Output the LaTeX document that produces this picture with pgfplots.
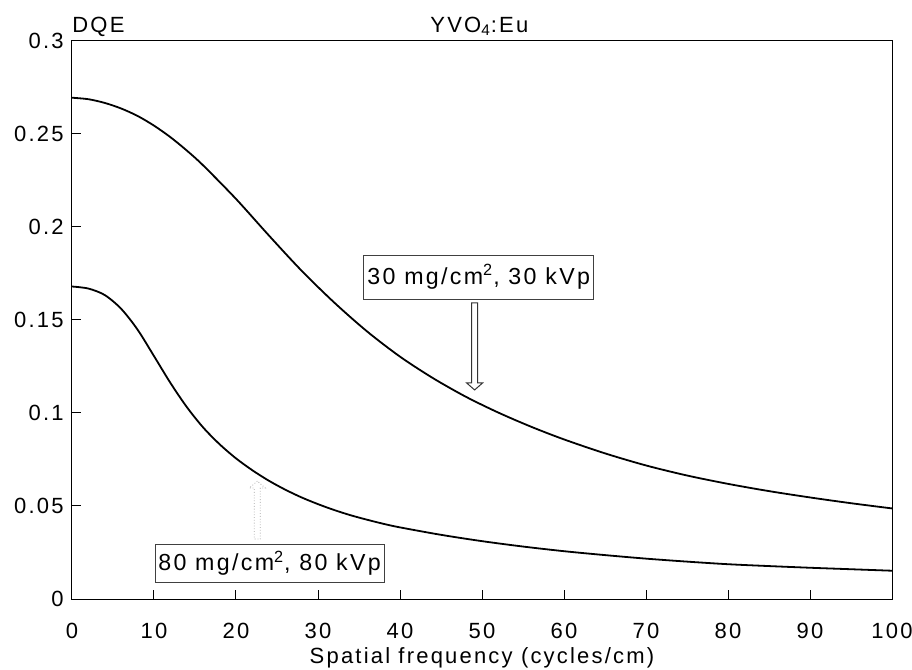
\documentclass[border=0pt]{standalone}
\usepackage{pgfplots}
\pgfplotsset{compat=1.18}
\usepackage{fontspec}
\setmainfont{Liberation Sans}[LetterSpace=10]

\begin{document}
\begin{tikzpicture}[font=\fontsize{11bp}{13bp}\selectfont]
  % page size follows the 912x670 reference (1 px = 0.5bp)
  \path[use as bounding box] (-36bp,-35.5bp) rectangle (420bp,299.5bp);
  \begin{axis}[
      width=410bp, height=279bp, scale only axis,
      clip=false,
      xmin=0, xmax=100, ymin=0, ymax=0.3,
      xtick={0,10,20,30,40,50,60,70,80,90,100},
      ytick={0,0.05,0.1,0.15,0.2,0.25,0.3},
      yticklabels={0,0.05,0.1,0.15,0.2,0.25,0.3},
      scaled y ticks=false,
      tick align=inside,
      xtick pos=bottom, ytick pos=left,
      major tick length=4.5bp,
      axis line style={line width=0.5bp},
      every tick/.style={black, line width=0.5bp},
      /pgf/number format/assume math mode=true,
      xticklabel style={inner sep=0pt, anchor=north, yshift=-12bp},
      yticklabel style={inner sep=0pt, anchor=east, xshift=-4bp},
      xlabel={Spatial frequency (cycles/cm)},
      xlabel style={at={(axis description cs:0.5,0)}, anchor=north, inner sep=0pt, yshift=-24bp},
    ]

    % 30 mg/cm2, 30 kVp
    \addplot[black, line width=0.9bp, smooth] coordinates {
      (0,0.2695) (2,0.2687) (4,0.2667) (6,0.2637) (8,0.2597)
      (10,0.2545) (12,0.2483) (14,0.2411) (16,0.2331) (20,0.2151)
      (24,0.1955) (28,0.1765) (32,0.1593) (36,0.1438) (40,0.1303)
      (44,0.1188) (48,0.1088) (52,0.1002) (56,0.0926) (60,0.0858)
      (65,0.0783) (70,0.0718) (75,0.0664) (80,0.0619) (85,0.0580)
      (90,0.0546) (95,0.0515) (100,0.0487)
    };

    % 80 mg/cm2, 80 kVp
    \addplot[black, line width=0.9bp, smooth] coordinates {
      (0,0.1680) (2,0.1669) (4,0.1634) (6,0.1560) (8,0.1448)
      (10,0.1306) (12,0.1162) (14,0.1032) (16,0.0922) (18,0.0832)
      (20,0.0756) (22,0.0692) (24,0.0636) (26,0.0588) (28,0.0546)
      (30,0.0510) (32,0.0478) (34,0.0450) (36,0.0426) (38,0.0404)
      (40,0.0385) (45,0.0345) (50,0.0311) (55,0.0282) (60,0.0257)
      (65,0.0236) (70,0.0217) (75,0.0201) (80,0.0187) (85,0.0177)
      (90,0.0168) (95,0.0160) (100,0.0152)
    };

    % labels and hollow arrows
    \node[draw=black!75, line width=0.5bp, inner xsep=1bp, inner ysep=0pt,
          minimum height=22bp, minimum width=115bp, font=\fontsize{11.6bp}{13bp}\selectfont]
      at (axis cs:49.6,0.1731) {30 mg/cm\textsuperscript{2}, 30 kVp};
    \draw[black!80, line width=0.5bp] (axis cs:49.1,0.1124) -- ++(-4bp,3.5bp)
      -- ++(2.5bp,0) -- ++(0,40bp) -- ++(3bp,0) -- ++(0,-40bp) -- ++(2.5bp,0) -- cycle;

    \node[draw=black!75, line width=0.5bp, inner xsep=1bp, inner ysep=0pt,
          minimum height=19bp, minimum width=114.6bp, font=\fontsize{11.6bp}{13bp}\selectfont]
      at (axis cs:24.1,0.0192) {80 mg/cm\textsuperscript{2}, 80 kVp};
    \draw[black!35, line width=0.4bp, densely dotted] (axis cs:22.6,0.0634) -- ++(-4bp,-3.5bp)
      -- ++(2.5bp,0) -- ++(0,-25.5bp) -- ++(3bp,0) -- ++(0,25.5bp) -- ++(2.5bp,0) -- cycle;

    \node[anchor=base west, inner sep=0pt, yshift=4.4bp] at (rel axis cs:0,1) {DQE};
    \node[anchor=base west, inner sep=0pt, yshift=4.4bp] at (rel axis cs:0.4366,1) {YVO\textsubscript{4}:Eu};
  \end{axis}
\end{tikzpicture}
\end{document}
